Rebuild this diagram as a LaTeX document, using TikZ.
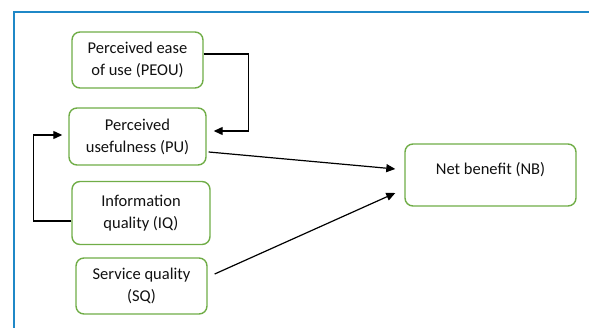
\documentclass[tikz,border=0pt]{standalone}
\usepackage{fontspec}
\setmainfont{Carlito}
\usepackage{xcolor}
\usepackage{tikz}
\usetikzlibrary{arrows.meta}
\definecolor{tamFrame}{HTML}{1F88C7}
\definecolor{tamGreen}{HTML}{70AD47}
\definecolor{tamInk}{HTML}{111111}
\tikzset{
  tam diagram/.style={x=1pt, y=-1pt, font=\fontsize{16.5}{22}\selectfont,
    text=tamInk, line join=miter},
  tam box/.style={draw=tamGreen, fill=white, line width=1.4pt,
    rounded corners=8pt, align=center, inner sep=2pt},
  tam arrow/.style={-{Triangle[length=9pt,width=8pt]}, draw=black,
    line width=1.2pt},
  tam frame/.style={draw=tamFrame, line width=2.6pt}
}

\begin{document}
\begin{tikzpicture}[tam diagram]
\useasboundingbox (0,0) rectangle (589,328);
\draw[tam frame] (14,328) -- (14,12) -- (589,12);
\node[tam box, minimum width=131pt, minimum height=56pt] (peou) at (137.5,60) {Perceived ease\\of use (PEOU)};
\node[tam box, minimum width=137pt, minimum height=57pt] (pu) at (137.5,136.5) {Perceived\\usefulness (PU)};
\node[tam box, minimum width=138pt, minimum height=63pt] (iq) at (141,213) {Information\\quality (IQ)};
\node[tam box, minimum width=131pt, minimum height=56pt] (sq) at (141.5,286) {Service quality\\(SQ)};
\node[tam box, minimum width=171pt, minimum height=62pt, text depth=14pt] (nb) at (490.5,175) {Net benefit (NB)};
% feedback into PU
\draw[tam arrow] ([yshift=6pt]peou.east) -- ++(45,0) |- ([xshift=7pt,yshift=5.5pt]pu.east);
\draw[tam arrow] ([yshift=-8pt]iq.west) -- ++(-38,0) |- ([xshift=-6pt,yshift=1.5pt]pu.west);
% paths to net benefit
\draw[tam arrow] ([xshift=2pt,yshift=-15.5pt]pu.east) -- ([xshift=-9pt,yshift=6pt]nb.west);
\draw[tam arrow] ([xshift=7pt,yshift=12pt]sq.east) -- ([xshift=-9pt,yshift=-18pt]nb.west);
\end{tikzpicture}
\end{document}
